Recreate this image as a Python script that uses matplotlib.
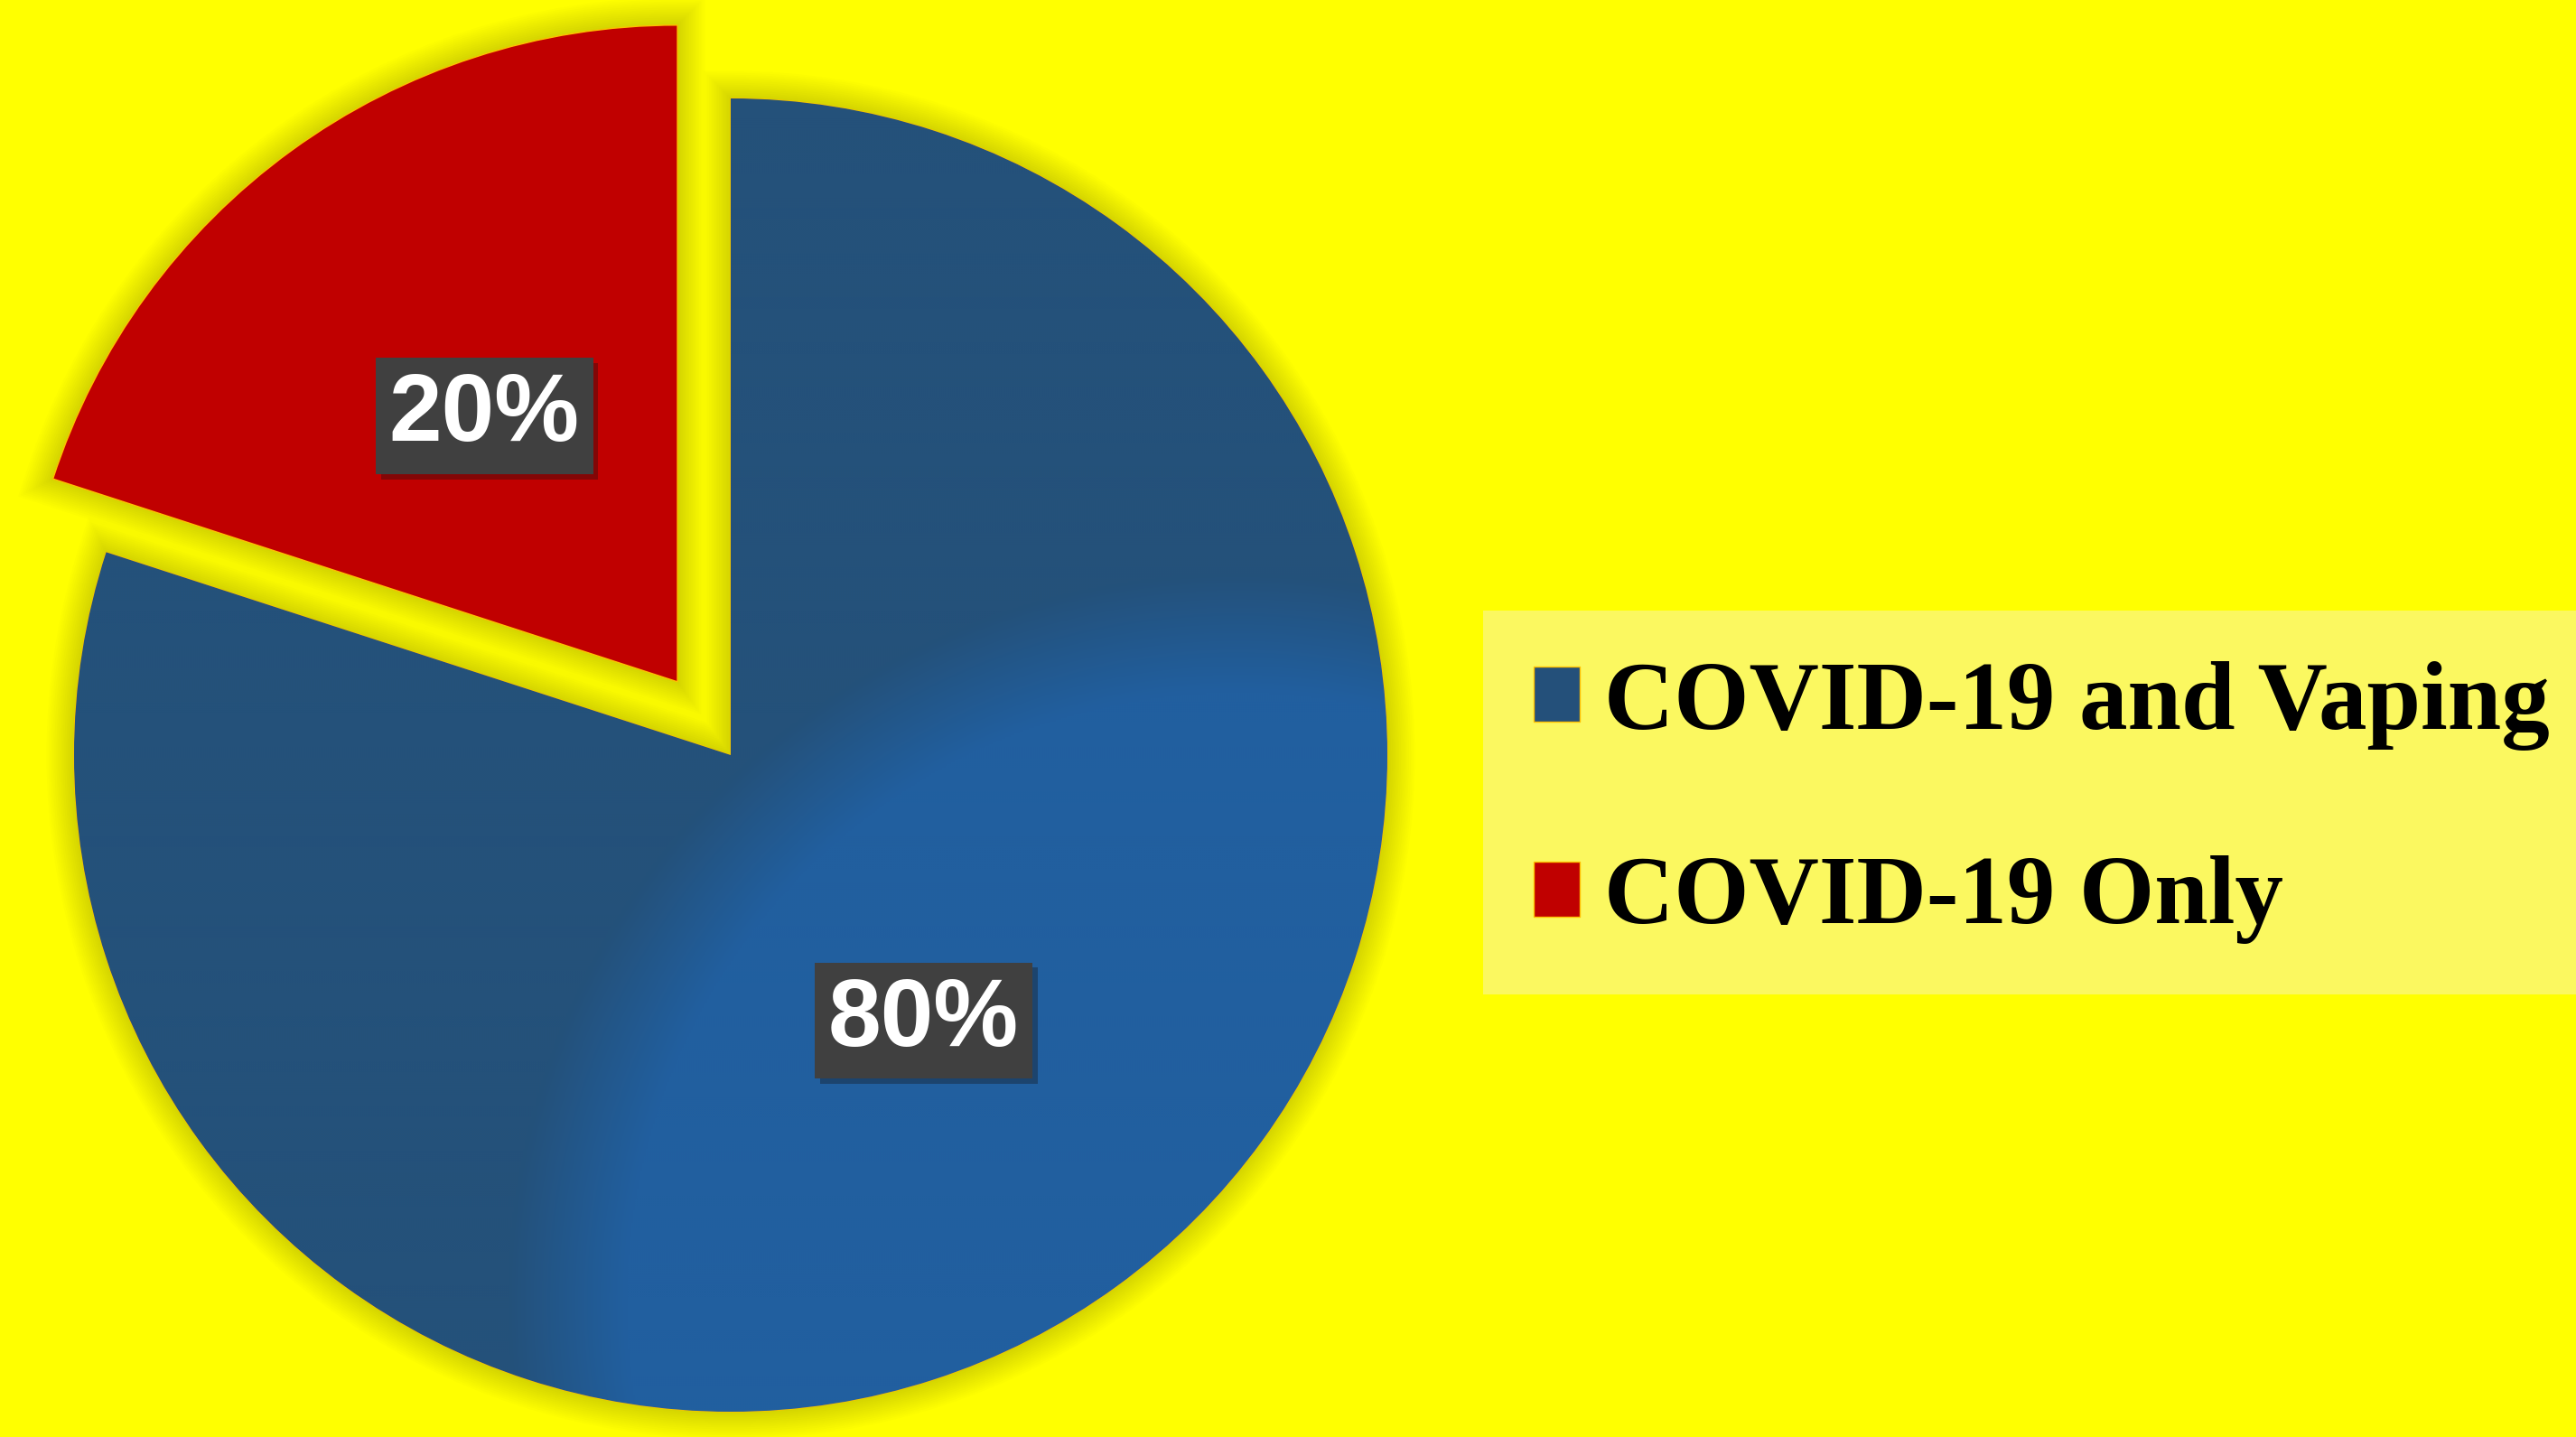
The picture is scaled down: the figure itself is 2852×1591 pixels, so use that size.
import numpy as np
import matplotlib
matplotlib.use('Agg')
import matplotlib.pyplot as plt
from matplotlib.patches import Wedge
import matplotlib.patheffects as pe

# data
labels = ['COVID-19 and Vaping', 'COVID-19 Only']
values = [80, 20]
colors = ['#24507A', '#C00000']
explode = [0, 0.138]   # fraction of radius

W, H = 2852, 1591
R = 727
fig = plt.figure(figsize=(W / 100, H / 100), dpi=100, facecolor='#FFFF00')
ax = fig.add_axes([0, 0, 1, 1])
ax.set_facecolor('#FFFF00')

wedges, texts, autotexts = ax.pie(
    values, colors=colors, explode=[e * R for e in explode], startangle=90,
    counterclock=False, radius=R, center=(809, H - 836), autopct='%1.0f%%',
    pctdistance=0.5, wedgeprops=dict(edgecolor='#FFC000', linewidth=1),
    textprops=dict(color='white', fontsize=76, fontweight='bold',
                   family='Liberation Sans'))

for t in autotexts:
    t.set_bbox(dict(boxstyle='square,pad=0.14', facecolor='#404040', edgecolor='none'))
    t.get_bbox_patch().set_path_effects(
        [pe.SimplePatchShadow(offset=(4, -4), alpha=0.35), pe.Normal()])
    t.set_zorder(5)

# soft outer shadow under the slices
for w in wedges:
    for k in range(14):
        px = 2 + k * 2.2
        sh = Wedge(w.center, w.r, w.theta1, w.theta2, facecolor='none',
                   edgecolor='black', alpha=0.012, linewidth=2 * px / 1.389,
                   zorder=0.5)
        ax.add_patch(sh)

# gradient on the big slice
yy, xx = np.mgrid[0:H:2, 0:W:2]
d = np.hypot(xx - 1369, yy - (H - 1443))
t = np.clip((d - 742) / 130 + 0.5, 0, 1)[..., None]
light = np.array([33, 95, 159]) / 255
dark = np.array([36, 81, 122]) / 255
rgb = light * (1 - t) + dark * t
im = ax.imshow(rgb, extent=(0, W, 0, H), origin='lower',
               zorder=wedges[0].get_zorder() + 0.1, interpolation='bilinear')
im.set_clip_path(wedges[0])

ax.set_xlim(0, W)
ax.set_ylim(0, H)
ax.set_aspect('auto')
ax.axis('off')

leg = ax.legend(wedges, labels, loc='upper left', bbox_to_anchor=(1642, H - 676),
                bbox_transform=ax.transData, borderaxespad=0, frameon=True,
                fancybox=False, facecolor='#FBF860', edgecolor='none', framealpha=1,
                prop=dict(family='Liberation Serif', weight='bold', size=77),
                handlelength=0.48, handleheight=0.5, handletextpad=0.25,
                labelspacing=1.09, borderpad=0.52)
for h in leg.legend_handles:
    h.set_edgecolor('#FFC000')

fig.savefig('out.png', dpi=100, facecolor=fig.get_facecolor())
